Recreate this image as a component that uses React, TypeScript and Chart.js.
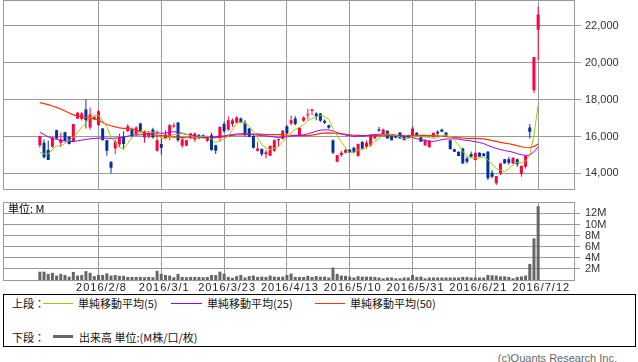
import { useEffect, useRef } from 'react';
import { Chart, registerables } from 'chart.js';

Chart.register(...registerables);

// ---------- DATA ----------
const tickIdx = [14, 29, 44, 59, 74, 89, 104, 119];
const tickLabels = ['2016/2/8', '2016/3/1', '2016/3/23', '2016/4/13', '2016/5/10', '2016/5/31', '2016/6/21', '2016/7/12'];
const priceTicks = [14000, 16000, 18000, 20000, 22000];
const volTicks = [2, 4, 6, 8, 10, 12];

const opens = [
  15530, 15660, 15260, 15440, 16340, 15660, 16230, 15980, 15710, 16970,
  16950, 17460, 16490, 16920, 16610, 16430, 15800, 14630, 15350, 15570,
  15980, 16290, 16380, 16070, 16700, 15950, 15980, 16380, 15230, 15590,
  15890, 16040, 16540, 16760, 15500, 15500, 15950, 15840, 16070, 16070,
  15770, 16070, 15530, 15950, 16670, 16380, 16670, 16760, 16970, 16740,
  16430, 16020, 15230, 15320, 15030, 14960, 15230, 15800, 15870, 16560,
  16700, 16970, 16070, 16850, 17150, 17400, 17240, 17240, 16850, 16610,
  15800, 14630, 14990, 15120, 15300, 15390, 14940, 15710, 15440, 15530,
  15890, 16380, 16070, 16310, 16070, 16070, 16220, 16020, 16070, 16020,
  16200, 15980, 15530, 15410, 15980, 16250, 16380, 16220, 15800, 15310,
  15170, 15350, 14810, 15050, 14720, 15120, 15080, 15170, 14040, 13460,
  14000, 14760, 14760, 14540, 14760, 13960, 14360, 16490, 18500, 21780,
];
const highs = [
  16040, 15840, 15770, 15980, 16360, 16200, 16250, 16000, 16670, 17330,
  17330, 18020, 17570, 17100, 17420, 16460, 15820, 14650, 15840, 16160,
  16290, 16670, 16490, 16560, 16740, 16310, 16310, 16470, 16340, 15890,
  16340, 16670, 16740, 16790, 15950, 15820, 16200, 16220, 16130, 16110,
  16000, 16200, 15550, 16560, 16790, 17100, 16970, 17100, 17030, 16880,
  16460, 16060, 15710, 15350, 15260, 15500, 15840, 15880, 16340, 16610,
  17120, 17100, 16470, 17100, 17510, 17480, 17310, 17260, 16920, 16640,
  15840, 15000, 15230, 15350, 15320, 15440, 15620, 15730, 15800, 16130,
  16100, 16520, 16430, 16330, 16100, 16090, 16240, 16040, 16090, 16560,
  16230, 16000, 15860, 15790, 16200, 16340, 16420, 16240, 15820, 15330,
  15190, 15390, 14900, 15180, 15120, 15140, 15100, 15210, 14180, 13860,
  14580, 14780, 14900, 14880, 14810, 14410, 15000, 16670, 20310, 23050,
];
const lows = [
  15390, 14810, 14720, 15400, 15870, 15480, 15760, 15560, 15700, 16950,
  16860, 16430, 16380, 16900, 16600, 15800, 14960, 14000, 15050, 15440,
  15300, 16250, 15950, 16020, 16290, 15660, 15890, 15890, 15170, 15010,
  15850, 15800, 16450, 15710, 15390, 15480, 15850, 15710, 15850, 15900,
  15700, 15230, 15050, 15710, 16200, 16310, 16520, 16700, 16720, 15980,
  15960, 15350, 15170, 14940, 14810, 14940, 15170, 15440, 15840, 16110,
  16610, 16610, 16050, 16790, 16920, 17170, 16880, 16800, 16670, 16420,
  15050, 14600, 14900, 15080, 15100, 15080, 14900, 15350, 15350, 15440,
  15880, 16250, 16020, 15890, 15800, 15900, 15890, 15800, 15930, 15950,
  15980, 15710, 15480, 15400, 15950, 16070, 16250, 16020, 15310, 15170,
  14940, 14540, 14540, 14880, 14700, 14900, 14920, 13640, 13730, 13370,
  13910, 14540, 14470, 14520, 14360, 13820, 14270, 15890, 18360, 20130,
];
const closes = [
  16020, 14870, 14720, 15950, 15890, 15840, 15770, 15590, 16670, 17280,
  17240, 16880, 17190, 17060, 17370, 15800, 15230, 14310, 15710, 15930,
  15590, 16560, 16020, 16490, 16310, 16250, 16160, 15950, 15800, 15390,
  16110, 16610, 16610, 15800, 15840, 15800, 16160, 16160, 15930, 15950,
  15950, 15260, 15230, 16520, 16290, 16880, 16880, 17030, 16790, 16070,
  15980, 15390, 15350, 15030, 15140, 15500, 15800, 15860, 16310, 16160,
  16880, 16670, 16470, 17030, 17210, 17480, 17100, 16850, 16740, 16470,
  15120, 14990, 15120, 15260, 15120, 15170, 15590, 15350, 15660, 16070,
  16090, 16310, 16380, 15890, 15800, 15930, 15890, 15800, 15950, 16430,
  15980, 15710, 15800, 15770, 16200, 16160, 16250, 16020, 15310, 15170,
  14940, 14540, 14630, 14900, 15120, 14900, 14940, 13730, 13820, 13860,
  14540, 14540, 14580, 14850, 14490, 14410, 14940, 16250, 20310, 22610,
];
// volume, in millions of shares
const volumes = [
  1.5, 1.5, 1.1, 1.3, 0.8, 1.1, 0.9, 0.6, 1.45, 0.8,
  0.9, 1.6, 1.3, 0.7, 0.9, 0.9, 1.2, 0.8, 0.9, 0.75,
  0.75, 0.55, 0.55, 0.55, 0.55, 0.5, 0.55, 0.5, 1.65, 1.1,
  0.9, 0.8, 0.5, 1.1, 0.55, 0.5, 0.55, 0.55, 0.55, 0.5,
  0.55, 0.9, 0.9, 1.5, 1.15, 0.55, 0.4, 0.7, 0.9, 0.45,
  0.7, 0.8, 0.55, 0.6, 0.55, 0.8, 0.6, 0.55, 0.6, 0.9,
  1.15, 0.55, 0.55, 0.55, 0.75, 0.55, 0.7, 0.6, 0.6, 0.45,
  2.25, 1.1, 0.8, 0.75, 0.6, 0.45, 0.7, 0.6, 0.6, 0.6,
  0.55, 0.45, 0.3, 0.45, 0.45, 0.3, 0.3, 0.45, 0.45, 0.9,
  0.55, 0.6, 0.3, 0.45, 0.45, 0.45, 0.45, 0.45, 0.45, 0.45,
  0.45, 0.55, 0.55, 0.45, 0.45, 0.45, 0.45, 0.9, 0.85, 0.8,
  0.65, 0.65, 0.55, 0.3, 0.55, 0.65, 0.8, 2.9, 7.5, 13.3,
];
// moving-average values before a full window exists inside the view
const ma5Head = [15140, 15060, 15045, 15300];
const ma25Head = [
  16216, 16108, 15982, 15892, 15838, 15784, 15748, 15730, 15730, 15766,
  15802, 15838, 15874, 15892, 15910, 15910, 15910, 15892, 15910, 15928,
  15970, 16020, 16060, 16080,
];
const ma50Head = [
  17838, 17780, 17730, 17650, 17580, 17490, 17380, 17270, 17170, 17110,
  17070, 17040, 17000, 16960, 16900, 16760, 16650, 16580, 16520, 16470,
  16440, 16420, 16400, 16360, 16250, 16180, 16120, 16090, 16070, 16050,
  16030, 15990, 15970, 15950, 15940, 15930, 15930, 15930, 15930, 15930,
  15930, 15930, 15940, 15950, 15980, 16030, 16060, 16080, 16090,
];

// ---------- helpers ----------
function sma(head: number[], n: number): number[] {
  return closes.map((_, i) => {
    if (i < head.length) return head[i];
    let s = 0;
    for (let k = i - n + 1; k <= i; k++) s += closes[k];
    return s / n;
  });
}

const X_MIN = -8.8;
const X_MAX = 127.8;
const P_MIN = 13098;
const P_MAX = 23367;
const V_MAX = 14.05;

const UP = '#ff0040';
const DOWN = '#003399';
const GRID = '#999999';
const LABEL_FONT = '11px "Liberation Sans", Arial, sans-serif';
const CJK_FONT = '"Noto Sans CJK JP", "Noto Sans", sans-serif';

const candleColors = closes.map((c, i) => (c >= opens[i] ? UP : DOWN));

function xScale(): any {
  return {
    type: 'linear',
    min: X_MIN,
    max: X_MAX,
    offset: false,
    grid: { color: GRID, offset: false, drawTicks: false, lineWidth: 1 },
    border: { display: false },
    ticks: { display: false },
    afterBuildTicks: (s: any) => {
      s.ticks = tickIdx.map((v) => ({ value: v }));
    },
    afterFit: (s: any) => {
      s.height = 0;
    },
  };
}

function framePlugin(id: string, draw: (chart: any) => void) {
  return {
    id,
    afterDraw(chart: any) {
      const { ctx, chartArea: a } = chart;
      ctx.save();
      ctx.strokeStyle = GRID;
      ctx.lineWidth = 1;
      ctx.strokeRect(Math.floor(a.left) + 0.5, Math.floor(a.top) + 0.5, Math.round(a.right - a.left) - 1, Math.round(a.bottom - a.top));
      draw(chart);
      ctx.restore();
    },
  };
}

export default function App() {
  const topRef = useRef<HTMLCanvasElement>(null);
  const botRef = useRef<HTMLCanvasElement>(null);

  useEffect(() => {
    document.body.style.margin = '0';
    const ma5 = sma(ma5Head, 5);
    const ma25 = sma(ma25Head, 25);
    const ma50 = sma(ma50Head, 50);

    const line = (label: string, vals: number[], color: string, w: number) => ({
      type: 'line' as const,
      label,
      data: vals.map((y, i) => ({ x: i, y })),
      borderColor: color,
      borderWidth: w,
      pointRadius: 0,
      tension: 0,
      fill: false,
      order: 0,
    });

    const top = new Chart(topRef.current as HTMLCanvasElement, {
      type: 'bar',
      data: {
        datasets: [
          line('単純移動平均(5)', ma5, '#99cc00', 1),
          line('単純移動平均(25)', ma25, '#9900ff', 1),
          line('単純移動平均(50)', ma50, '#ff3300', 1.2),
          {
            type: 'bar',
            label: 'body',
            data: opens.map((o, i) => ({ x: i, y: [o, closes[i]] })) as any,
            backgroundColor: candleColors,
            barThickness: 3,
            grouped: false,
            minBarLength: 1,
            inflateAmount: 0,
            borderWidth: 0,
            order: 1,
          } as any,
          {
            type: 'bar',
            label: 'wick',
            data: lows.map((l, i) => ({ x: i, y: [l, highs[i]] })) as any,
            backgroundColor: candleColors,
            barThickness: 1,
            grouped: false,
            inflateAmount: 0,
            borderWidth: 0,
            order: 2,
          } as any,
        ],
      },
      options: {
        animation: false,
        responsive: false,
        maintainAspectRatio: false,
        devicePixelRatio: 1,
        layout: { padding: { left: 3, top: 0, right: 0, bottom: 1 } },
        plugins: { legend: { display: false }, tooltip: { enabled: false } },
        scales: {
          x: xScale(),
          y: {
            type: 'linear',
            position: 'right',
            min: P_MIN,
            max: P_MAX,
            beginAtZero: false,
            grid: { color: GRID, tickLength: 6, drawTicks: true },
            border: { display: false },
            ticks: { display: false },
            afterBuildTicks: (s: any) => {
              s.ticks = priceTicks.map((v) => ({ value: v }));
            },
            afterFit: (s: any) => {
              s.width = 63;
            },
          },
        },
      } as any,
      plugins: [
        framePlugin('frameTop', (chart: any) => {
          const { ctx, chartArea: a, scales } = chart;
          ctx.fillStyle = '#333';
          ctx.font = LABEL_FONT;
          ctx.textAlign = 'left';
          ctx.textBaseline = 'middle';
          priceTicks.forEach((v) => {
            ctx.fillText(v.toLocaleString('en-US'), a.right + 10, scales.y.getPixelForValue(v));
          });
        }),
      ],
    });

    const bot = new Chart(botRef.current as HTMLCanvasElement, {
      type: 'bar',
      data: {
        datasets: [
          {
            label: '出来高',
            data: volumes.map((v, i) => ({ x: i, y: v })),
            backgroundColor: '#666666',
            barThickness: 3,
            grouped: false,
            inflateAmount: 0,
            borderWidth: 0,
          } as any,
        ],
      },
      options: {
        animation: false,
        responsive: false,
        maintainAspectRatio: false,
        devicePixelRatio: 1,
        layout: { padding: { left: 3, top: 6, right: 0, bottom: 14 } },
        plugins: { legend: { display: false }, tooltip: { enabled: false } },
        scales: {
          x: xScale(),
          y: {
            type: 'linear',
            position: 'right',
            min: 0,
            max: V_MAX,
            grid: { color: GRID, tickLength: 5, drawTicks: true },
            border: { display: false },
            ticks: { display: false },
            afterBuildTicks: (s: any) => {
              s.ticks = volTicks.map((v) => ({ value: v }));
            },
            afterFit: (s: any) => {
              s.width = 63;
            },
          },
        },
      } as any,
      plugins: [
        framePlugin('frameBot', (chart: any) => {
          const { ctx, chartArea: a, scales } = chart;
          ctx.fillStyle = '#333';
          ctx.font = LABEL_FONT;
          ctx.textAlign = 'left';
          ctx.textBaseline = 'middle';
          volTicks.forEach((v) => {
            ctx.fillText(v + 'M', a.right + 10, scales.y.getPixelForValue(v));
          });
          ctx.fillStyle = '#000';
          ctx.font = '11px ' + CJK_FONT;
          ctx.fillText('単位: M', a.left + 5, a.top + 7);
          ctx.font = LABEL_FONT;
          ctx.fillStyle = '#222';
          ctx.textAlign = 'center';
          (ctx as any).letterSpacing = '1px';
          tickIdx.forEach((v, k) => {
            ctx.fillText(tickLabels[k], scales.x.getPixelForValue(v) + 3, a.bottom + 8);
          });
          (ctx as any).letterSpacing = '0px';
        }),
      ],
    });

    if ((document as any).fonts && (document as any).fonts.load) {
      Promise.all([
        (document as any).fonts.load('11px "Noto Sans CJK JP"', '単位'),
        (document as any).fonts.load('11px "Liberation Sans"'),
      ]).then(() => {
        top.update();
        bot.update();
      }).catch(() => {});
    }

    return () => {
      top.destroy();
      bot.destroy();
    };
  }, []);

  const txt = (left: number, cy: number, s: string, extra: any = {}) => (
    <span
      style={{
        position: 'absolute',
        left,
        top: cy - 7,
        lineHeight: '14px',
        fontSize: 11,
        fontFamily: CJK_FONT,
        color: '#111',
        whiteSpace: 'nowrap',
        ...extra,
      }}
    >
      {s}
    </span>
  );
  const bar = (left: number, top: number, width: number, height: number, color: string) => (
    <div style={{ position: 'absolute', left, top, width, height, background: color }} />
  );

  return (
    <div style={{ position: 'fixed', left: 0, top: 0, width: 638, height: 362, background: '#fff', overflow: 'hidden' }}>
      <canvas ref={topRef} width={638} height={191} style={{ position: 'absolute', left: 0, top: 0, width: 638, height: 191 }} />
      <canvas ref={botRef} width={638} height={98} style={{ position: 'absolute', left: 0, top: 196, width: 638, height: 98 }} />
      <div style={{ position: 'absolute', left: 3, top: 294, width: 633, height: 53, border: '1px solid #000', boxSizing: 'border-box' }} />
      {txt(12, 303, '上段：')}
      {bar(43, 303, 30, 1, '#99cc00')}
      {txt(78, 303, '単純移動平均(5)')}
      {bar(171, 303, 31, 1, '#9900ff')}
      {txt(207, 303, '単純移動平均(25)')}
      {bar(315, 303, 30, 1, '#ff3300')}
      {txt(350, 303, '単純移動平均(50)')}
      {txt(12, 337, '下段：')}
      {bar(53, 335, 20, 3, '#666666')}
      {txt(79, 337, '出来高 単位:(M株/口/枚)')}
      <span
        style={{
          position: 'absolute',
          right: 638 - 617,
          top: 351,
          lineHeight: '14px',
          fontSize: 11,
          fontFamily: '"Liberation Sans", Arial, sans-serif',
          color: '#666',
          whiteSpace: 'nowrap',
        }}
      >
        (c)Quants Research Inc.
      </span>
    </div>
  );
}
